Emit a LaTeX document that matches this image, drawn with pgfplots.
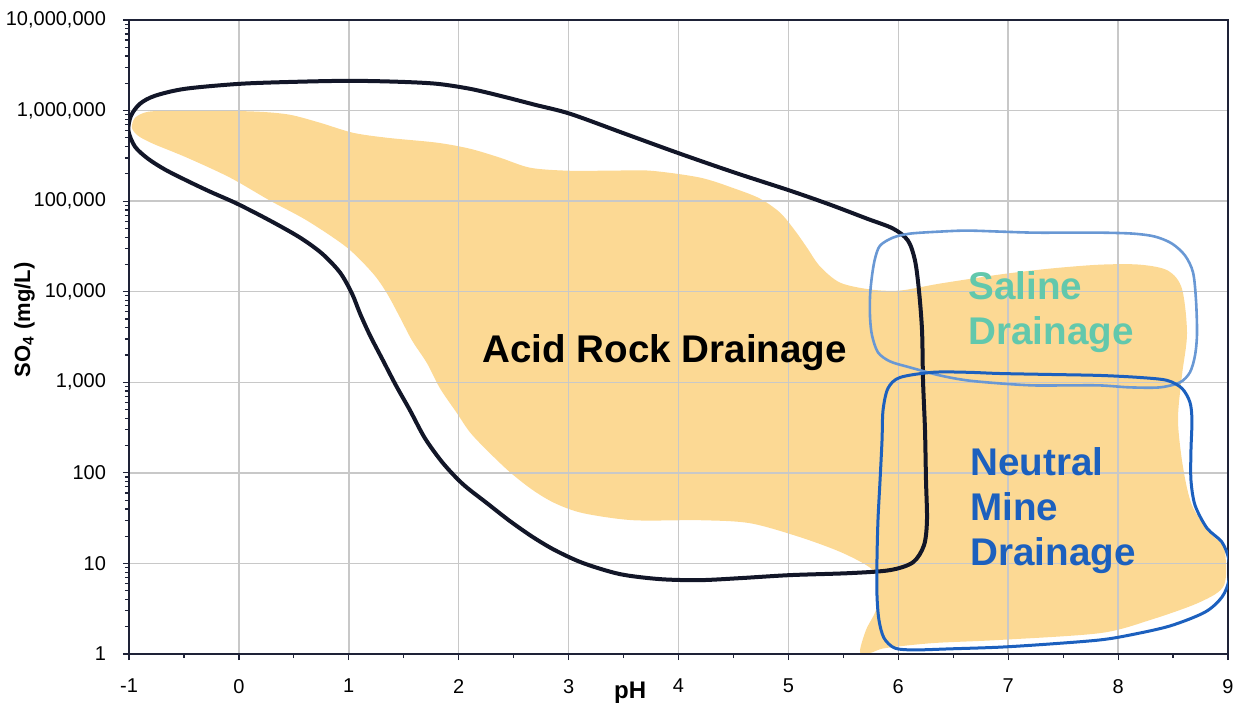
\documentclass[border=0pt]{standalone}
\usepackage{pgfplots}
\pgfplotsset{compat=1.18}
\usepackage{fontspec}
\setmainfont{Liberation Sans}
\definecolor{orangefill}{RGB}{252,217,148}
\definecolor{ardline}{RGB}{18,22,40}
\definecolor{salineblue}{RGB}{105,152,212}
\definecolor{nmdblue}{RGB}{28,96,190}
\definecolor{salinetext}{RGB}{98,200,172}
\definecolor{gridgray}{RGB}{200,200,200}
\definecolor{axisdark}{RGB}{30,34,55}
\begin{document}
\begin{tikzpicture}
\begin{axis}[
  set layers,
  scale only axis, width=549.5pt, height=317pt,
  xmin=-1, xmax=9, ymin=1, ymax=1e7, ymode=log,
  xtick={-1,0,1,2,3,4,5,6,7,8,9},
  xticklabels={-1,0,1,2,3,4,5,6,7,8,9},
  ytick={1,10,100,1000,10000,100000,1000000,10000000},
  yticklabels={1,10,100,{1,000},{10,000},{100,000},{1,000,000},{10,000,000}},
  minor x tick num=1,
  tick align=outside, tick pos=left,
  major tick length=3pt, minor tick length=2pt,
  grid=major, major grid style={color=gridgray, line width=0.75pt},
  axis line style={color=axisdark, line width=1pt},
  tick style={color=axisdark, line width=0.6pt},
  ticklabel style={font=\fontsize{10}{12}\selectfont},
  xticklabel style={yshift=-6pt},
  yticklabel style={xshift=-5pt},
  xlabel={pH}, ylabel={SO\textsubscript{4} (mg/L)},
  xlabel style={at={(axis description cs:0.456,0)}, anchor=north, yshift=-14pt, inner sep=0pt, font=\fontsize{12}{14}\selectfont\bfseries},
  ylabel style={at={(axis description cs:-0.095,0.527)}, anchor=center, font=\fontsize{11}{13}\selectfont\bfseries},
]
% orange field
\addplot[on layer=axis background, fill=orangefill, draw=none, smooth cycle, tension=0.5] coordinates {
(-0.973,6.46e5) (-0.945,8.33e5) (-0.827,9.70e5) (-0.581,9.95e5) (-0.172,9.95e5) (0.192,9.70e5) (0.465,8.99e5) (0.738,7.34e5) (1.038,5.69e5) (1.348,5.01e5) (1.803,4.42e5) (2.103,3.79e5) (2.376,3.02e5) (2.649,2.34e5) (2.985,2.17e5) (3.377,2.17e5) (3.741,2.17e5) (4.196,1.82e5) (4.514,1.373e5) (4.742,1.066e5) (4.924,7.47e4) (5.060,4.73e4) (5.169,3.07e4) (5.288,1.90e4) (5.470,1.26e4) (5.743,1.06e4) (6.015,1.03e4) (6.379,1.23e4) (6.925,1.55e4) (7.380,1.80e4) (7.835,1.99e4) (8.199,1.99e4) (8.454,1.71e4) (8.581,1.08e4) (8.627,3460) (8.581,1190) (8.545,380) (8.591,115) (8.672,43.9) (8.836,21.6) (8.965,14.7) (8.965,5.77) (8.745,3.74) (8.290,2.37) (7.835,1.70) (6.925,1.43) (6.316,1.32) (5.879,1.16) (5.761,1.04) (5.652,1.04) (5.706,1.84) (5.797,3.06) (5.815,5.34) (5.770,8.44) (5.497,13.0) (5.106,19.5) (4.651,27.8) (4.196,30.0) (3.586,30.0) (3.131,35.9) (2.876,46.2) (2.676,64.3) (2.467,101.5) (2.258,177) (2.103,280) (1.985,454) (1.830,857) (1.712,1620) (1.575,2900) (1.466,5190) (1.348,9550) (1.220,15900) (0.984,30700) (0.620,61000) (0.283,101300) (-0.081,182000) (-0.472,302000) (-0.782,431000) (-0.918,528000)
};
% acid rock drainage outline
\addplot[draw=ardline, line width=2pt, smooth cycle, tension=0.5] coordinates {
(-1.005,5.99e5) (-0.982,8.76e5) (-0.900,1.189e6) (-0.763,1.457e6) (-0.490,1.739e6) (0.010,1.975e6) (0.510,2.077e6) (1.011,2.131e6) (1.466,2.077e6) (1.803,1.975e6) (2.103,1.739e6) (2.376,1.457e6) (2.694,1.159e6) (3.013,9.22e5) (3.513,5.55e5) (4.014,3.34e5) (4.514,2.06e5) (5.015,1.306e5) (5.379,9.15e4) (5.715,6.41e4) (5.952,4.98e4) (6.088,3.67e4) (6.152,2.21e4) (6.188,1.031e4) (6.216,3730) (6.225,1049) (6.243,295) (6.252,82.9) (6.261,30.0) (6.234,15.9) (6.134,10.3) (5.925,8.44) (5.561,7.82) (5.015,7.43) (4.560,6.88) (4.196,6.54) (3.832,6.71) (3.468,7.62) (3.131,10.1) (2.876,14.0) (2.676,19.5) (2.467,29.3) (2.258,46.2) (2.039,74.9) (1.857,128) (1.693,241) (1.557,490) (1.429,924) (1.311,1744) (1.193,3290) (1.102,5750) (1.029,9550) (0.920,16300) (0.756,26400) (0.556,39600) (0.283,61000) (-0.017,93800) (-0.263,127300) (-0.472,168000) (-0.672,223000) (-0.827,294000) (-0.945,399000)
};
% saline drainage outline
\addplot[draw=salineblue, line width=1.3pt, smooth cycle, tension=0.5] coordinates {
(5.834,3.23e4) (5.952,3.96e4) (6.106,4.38e4) (6.379,4.61e4) (6.625,4.73e4) (6.925,4.61e4) (7.226,4.49e4) (7.562,4.49e4) (7.835,4.49e4) (8.136,4.38e4) (8.336,4.06e4) (8.490,3.40e4) (8.609,2.51e4) (8.682,1.63e4) (8.709,8000) (8.718,3460) (8.700,1980) (8.654,1290) (8.563,998) (8.381,879) (8.108,879) (7.835,924) (7.526,924) (7.226,924) (6.925,972) (6.625,1050) (6.379,1190) (6.106,1460) (5.925,1700) (5.815,2140) (5.761,3290) (5.743,5190) (5.743,9080) (5.761,1.51e4) (5.788,2.32e4)
};
% neutral mine drainage outline
\addplot[draw=nmdblue, line width=1.5pt, smooth cycle, tension=0.5] coordinates {
(5.906,857) (6.015,1130) (6.316,1290) (6.625,1290) (6.925,1250) (7.380,1220) (7.835,1190) (8.199,1130) (8.445,1050) (8.581,857) (8.654,600) (8.672,380) (8.663,177) (8.663,82.9) (8.700,43.9) (8.809,24.5) (8.945,17.2) (9.009,10.9) (9.009,6.54) (8.945,4.25) (8.791,2.90) (8.472,2.04) (8.108,1.62) (7.835,1.43) (7.380,1.29) (6.925,1.19) (6.471,1.14) (6.152,1.11) (5.970,1.16) (5.870,1.50) (5.824,2.37) (5.806,4.47) (5.806,10.9) (5.815,30.0) (5.834,82.9) (5.852,229) (5.861,490)
};
\node[anchor=base west, inner sep=0pt, font=\fontsize{19.3}{22.5}\selectfont\bfseries, text=black] at (axis cs:2.212,1660) {Acid Rock Drainage};
\node[anchor=north west, inner sep=0pt, align=left, font=\fontsize{19.3}{22.5}\selectfont\bfseries, text=salinetext] at (axis cs:6.634,16700) {Saline\\Drainage};
\node[anchor=north west, inner sep=0pt, align=left, font=\fontsize{19.3}{22.5}\selectfont\bfseries, text=nmdblue] at (axis cs:6.652,191) {Neutral\\Mine\\Drainage};
\end{axis}
\pgfresetboundingbox
\path ([xshift=-64.5pt,yshift=-27.5pt]current axis.south west) rectangle ([xshift=5pt,yshift=10pt]current axis.north east);
\end{tikzpicture}
\end{document}
